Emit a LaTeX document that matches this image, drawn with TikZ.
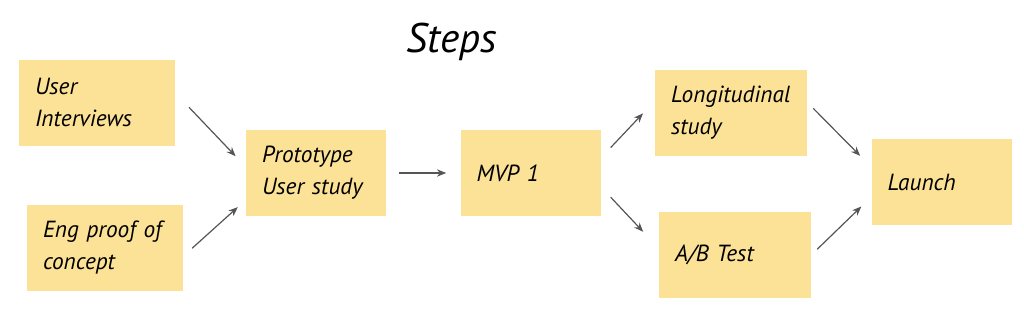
\documentclass[tikz,border=0pt]{standalone}
\usepackage{fontspec}
\setmainfont{PT Sans}
\usetikzlibrary{arrows.meta}
\definecolor{notecol}{RGB}{251,226,150}
\definecolor{arrcol}{RGB}{85,85,85}
\begin{document}
\begin{tikzpicture}[
        x=0.75pt, y=-0.75pt,
        note/.style={rectangle, fill=notecol, draw=none, inner xsep=12pt, inner ysep=0pt,
            minimum height=64.5pt, align=left, font=\itshape\fontsize{17.5}{24}\selectfont},
        wide/.style={note, text width=93pt},
        narrow/.style={note, text width=81pt},
        arr/.style={draw=arrcol, line width=0.9pt, -{Stealth[length=7pt, width=5.5pt]}},
    ]
    \useasboundingbox (0,0) rectangle (1024,319);
    \node[anchor=base, font=\itshape\fontsize{31}{33}\selectfont](title) at (452,52){Steps};
    \node[wide](ui) at (97,102.5){User\\Interviews};
    \node[wide](eng) at (105,248){Eng proof of\\concept};
    \node[narrow](proto) at (316,173){Prototype\\User study};
    \node[narrow](mvp) at (530.5,173){MVP 1};
    \node[wide, text width=90pt](long) at (731,113){Longitudinal\\study};
    \node[wide, text width=90pt](ab) at (735,255){A/B Test};
    \node[narrow](launch) at (941.5,182){Launch};
    \draw[arr, shorten <=15pt, shorten >=11pt] (ui.7) -- (proto.175);
    \draw[arr, shorten <=9pt, shorten >=8pt] (eng.-6) -- (proto.201);
    \draw[arr, shorten <=9.75pt, shorten >=10.5pt] (proto.east) -- (mvp.west);
    \draw[arr, shorten <=10.8pt, shorten >=12.8pt] (mvp.12) -- (long.171.5);
    \draw[arr, shorten <=10.9pt, shorten >=17pt] (mvp.-11) -- (ab.175.5);
    \draw[arr, shorten <=6.4pt, shorten >=11.8pt] (long.8.3) -- (launch.168.8);
    \draw[arr, shorten <=6.2pt, shorten >=10.3pt] (ab.0) -- (launch.192.7);
\end{tikzpicture}
\end{document}
